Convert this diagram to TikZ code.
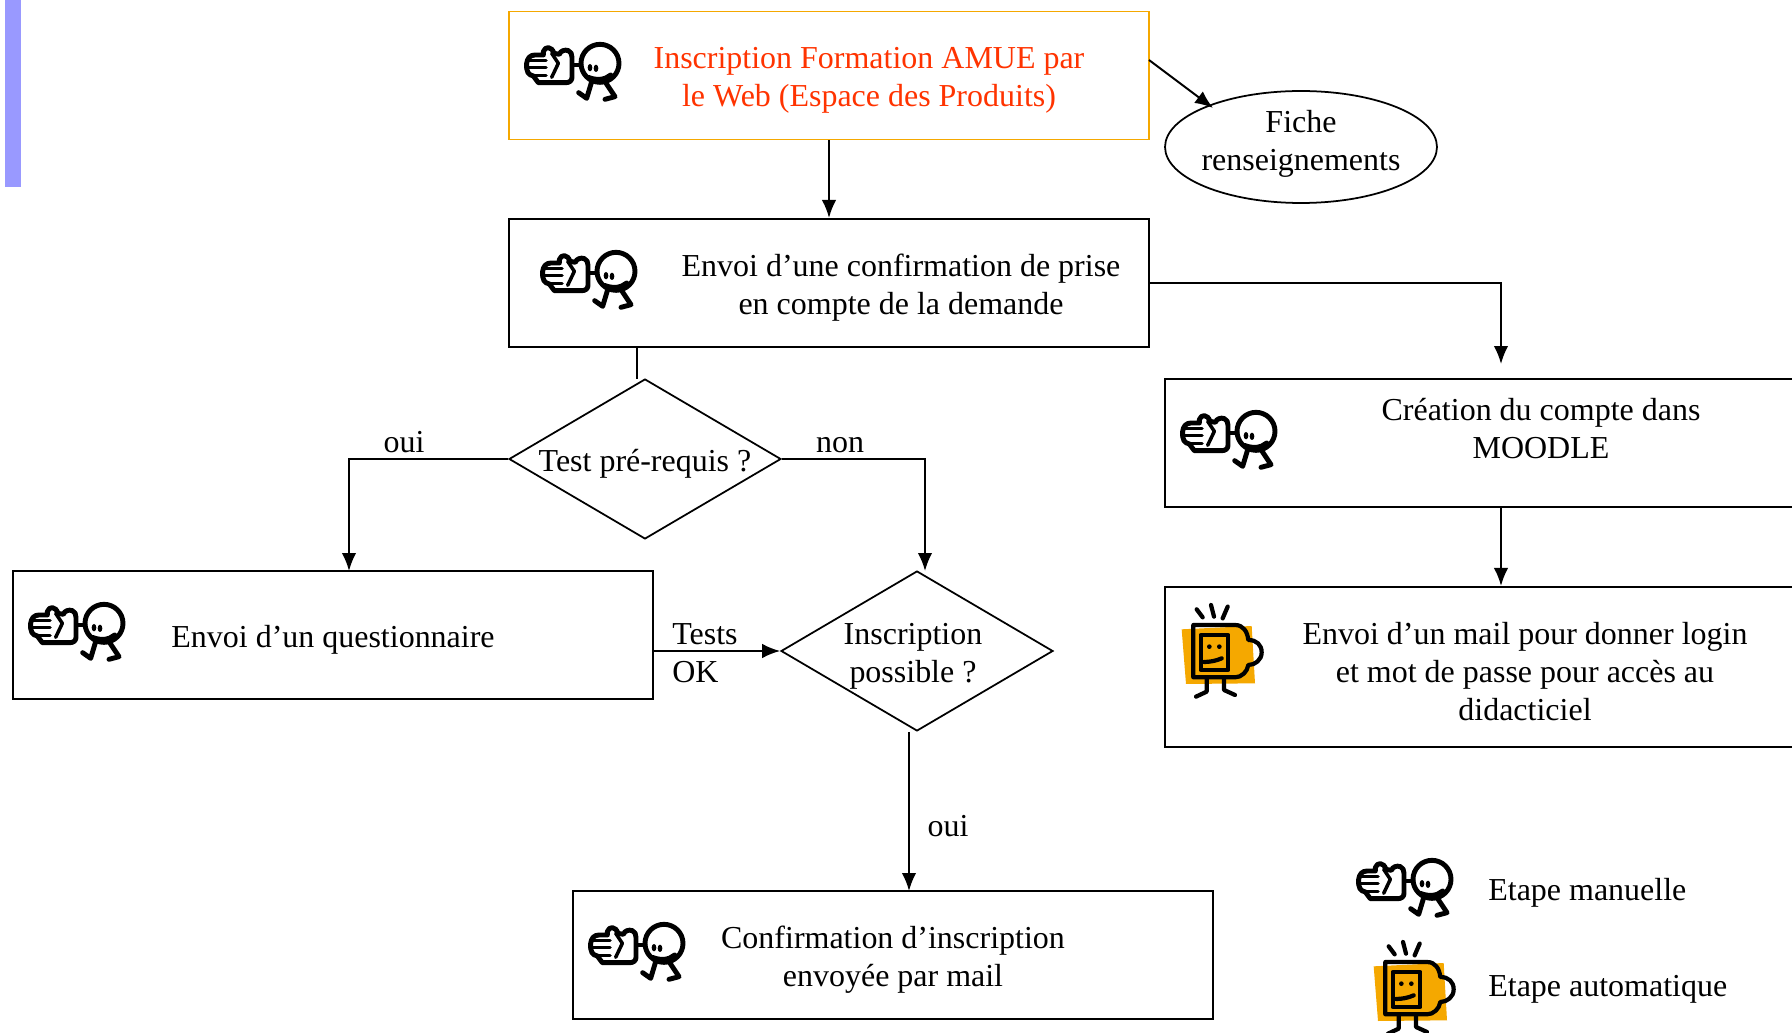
\documentclass[tikz,border=0pt]{standalone}
\usepackage{fontspec}
\setmainfont{Liberation Serif}
\usetikzlibrary{arrows.meta,shapes.geometric}
\definecolor{barre}{HTML}{9999FF}
\definecolor{orangeamue}{HTML}{F5A800}
\definecolor{rougeamue}{HTML}{FF3300}
\tikzset{
	boite/.style={draw, line width=1.2pt, minimum width=12.8cm, minimum height=2.56cm, inner sep=0pt},
	losange/.style={draw, diamond, line width=1pt, minimum width=5.44cm, minimum height=3.2cm, inner sep=0pt, aspect=1.7},
	texte/.style={align=center, font=\fontsize{18.2}{21.6}\selectfont},
	lien/.style={line width=1.1pt, -{Latex[length=3.6mm,width=2.9mm]}},
	manuel/.pic={
		\begin{scope}[scale=1/3, line width=2.8pt, line cap=round, line join=round]
			\draw (270,130) circle (57);
			\draw (235,172) .. controls (260,182) and (285,180) .. (302,165);
			\fill (240,143) ellipse (7 and 11);
			\fill (258,145) ellipse (7 and 11);
			\draw (245,185) -- (230,235) -- (206,218);
			\draw (285,185) -- (315,230) -- (285,238);
			\draw (188,135) -- (213,135);
			\draw (100,105) -- (100,95) .. controls (105,78) and (125,78) .. (132,100) -- (148,103) .. controls (152,92) and (165,88) .. (175,92) .. controls (183,96) and (186,102) .. (186,112) -- (186,172) .. controls (186,182) and (178,188) .. (168,188) -- (85,188) -- (70,168) .. controls (55,165) and (48,155) .. (50,130) .. controls (52,115) and (60,105) .. (75,105) -- cycle;
			\draw[line width=2pt] (58,122) -- (108,122);
			\draw[line width=2pt] (55,142) -- (108,142);
			\draw[line width=2pt] (72,166) -- (108,166);
			\draw[line width=2pt] (125,100) -- (145,130) -- (125,172);
		\end{scope}
	},
	automate/.pic={
		\begin{scope}[scale=1/3, line width=2.4pt, line cap=round, line join=round]
			\fill[orangeamue] (65,118) -- (275,108) -- (285,280) -- (78,282) -- cycle;
			\draw (100,105) -- (225,105) .. controls (250,105) and (262,125) .. (265,150) .. controls (290,150) and (305,165) .. (305,187) .. controls (305,210) and (285,225) .. (265,225) .. controls (262,245) and (245,262) .. (225,262) -- (100,262) -- cycle;
			\draw (122,135) rectangle (205,240);
			\fill (148,170) circle (7);
			\fill (178,170) circle (7);
			\draw (132,216) .. controls (150,216) and (170,212) .. (185,205);
			\draw (140,265) -- (140,305) -- (108,320);
			\draw (192,265) -- (192,300) -- (225,315);
			\draw (110,58) -- (128,82);
			\draw (153,45) -- (162,80);
			\draw (203,50) -- (188,85);
		\end{scope}
	}
}

\begin{document}
\begin{tikzpicture}[x=0.02cm, y=-0.02cm]
	\useasboundingbox (0,0) rectangle (1792,1033);
	
	\fill[barre] (5, 0) rectangle (21, 187);
	
	% les boites
	\node[boite, draw=orangeamue, line width=1pt] (inscription) at (829, 75.5) {};
	\node[boite] (confirmation) at (829, 283) {};
	\node[boite, minimum width=13.3cm] (compte) at (1497.5, 443) {};
	\node[boite, minimum width=13.3cm, minimum height=3.2cm] (mail) at (1497.5, 667) {};
	\node[boite] (questionnaire) at (333, 635) {};
	\node[boite] (envoyee) at (893, 955) {};
	
	\node[texte, text=rougeamue] (tinscription) at (869, 80) {Inscription Formation AMUE par\\le Web (Espace des Produits)};
	\node[texte] (tconfirmation) at (901, 288) {Envoi d’une confirmation de prise\\en compte de la demande};
	\node[texte] (tcompte) at (1541, 429) {Création du compte dans\\MOODLE};
	\node[texte] (tmail) at (1525, 672) {Envoi d’un mail pour donner login\\et mot de passe pour accès au\\didacticiel};
	\node[texte] (tquestionnaire) at (333, 640) {Envoi d’un questionnaire};
	\node[texte] (tenvoyee) at (893, 960) {Confirmation d’inscription\hspace{0.14cm}\\envoyée par mail};
	
	\node[draw, ellipse, line width=1pt, minimum width=5.44cm, minimum height=2.24cm, inner sep=0pt] (fiche) at (1301, 147) {};
	\node[texte] (tfiche) at (1301, 144) {Fiche\\renseignements};
	
	\node[losange] (prerequis) at (645, 459) {};
	\node[losange] (possible) at (917, 651) {};
	\node[texte] (tprerequis) at (645, 464) {Test pré-requis ?};
	\node[texte] (tpossible) at (913, 656) {Inscription\\possible ?};
	
	% les liens
	\coordinate (flechefiche) at (1213, 108);
	\coordinate (departfiche) at (1149, 60);
	\coordinate (fincompte) at (1501, 364);
	\coordinate (amorce) at (637, 379);
	\coordinate (finoui) at (349, 571);
	\coordinate (finnon) at (925, 571);
	\coordinate (finenvoi) at (909, 891);
	
	\draw[lien] (inscription.south) -- (confirmation.north);
	\draw[lien] (departfiche) -- (flechefiche);
	\draw[lien] (confirmation.east) -| (fincompte);
	\draw[line width=1.1pt] (amorce |- confirmation.south) -- (amorce);
	\draw[lien] (prerequis.west) -| (finoui);
	\draw[lien] (prerequis.east) -| (finnon);
	\draw[lien] (possible.west -| questionnaire.east) -- (possible.west);
	\draw[lien] (finenvoi |- possible.south) -- (finenvoi);
	\draw[lien] (fincompte |- compte.south) -- (fincompte |- mail.north);
	
	\node[texte] (oui) at (404, 442) {oui};
	\node[texte] (non) at (840, 445) {non};
	\node[texte, align=left, anchor=west, inner sep=0pt] (tests) at (672, 653) {Tests\\OK};
	\node[texte] (ouibas) at (948, 826) {oui};
	
	% les icones
	\pic at (510, 20) {manuel};
	\pic at (526, 228) {manuel};
	\pic at (1166, 388) {manuel};
	\pic at (14, 580) {manuel};
	\pic at (574, 900) {manuel};
	\pic at (1342, 836) {manuel};
	\pic at (1160, 590) {automate};
	\pic at (1352, 927) {automate};
	
	\node[texte, anchor=west, inner sep=0pt] (lmanuelle) at (1488, 893) {Etape manuelle};
	\node[texte, anchor=west, inner sep=0pt] (lautomatique) at (1488, 989) {Etape automatique};
\end{tikzpicture}
\end{document}
